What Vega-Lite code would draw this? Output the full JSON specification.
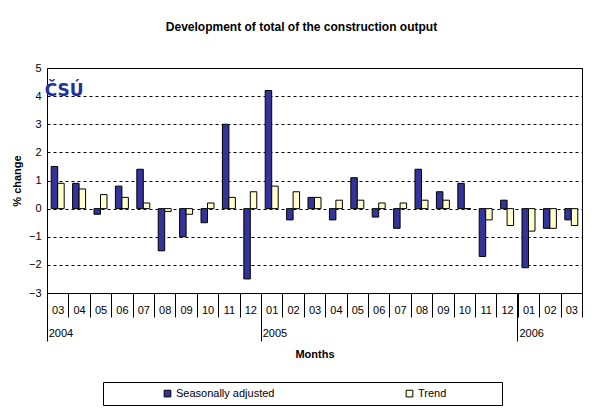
{
  "$schema": "https://vega.github.io/schema/vega-lite/v6.json",
  "width": 535,
  "height": 225,
  "autosize": {"type": "none"},
  "padding": {"left": 47, "top": 68, "right": 22, "bottom": 121},
  "background": "white",
  "config": {
    "font": "Liberation Sans",
    "view": {"stroke": "#000", "strokeWidth": 1},
    "axis": {"labelFont": "Liberation Sans", "titleFont": "Liberation Sans", "labelColor": "#000", "titleColor": "#000", "labelFontSize": 11, "titleFontSize": 11}
  },
  "title": {
    "text": "Development of total of the construction output",
    "fontSize": 12,
    "fontWeight": "bold",
    "font": "Liberation Sans",
    "color": "#000",
    "anchor": "middle",
    "dx": -13,
    "offset": 28
  },
  "datasets": {
    "bars": [
      {"period": "2004-03", "series": "Seasonally adjusted", "value": 1.5},
      {"period": "2004-03", "series": "Trend", "value": 0.9},
      {"period": "2004-04", "series": "Seasonally adjusted", "value": 0.9},
      {"period": "2004-04", "series": "Trend", "value": 0.7},
      {"period": "2004-05", "series": "Seasonally adjusted", "value": -0.2},
      {"period": "2004-05", "series": "Trend", "value": 0.5},
      {"period": "2004-06", "series": "Seasonally adjusted", "value": 0.8},
      {"period": "2004-06", "series": "Trend", "value": 0.4},
      {"period": "2004-07", "series": "Seasonally adjusted", "value": 1.4},
      {"period": "2004-07", "series": "Trend", "value": 0.2},
      {"period": "2004-08", "series": "Seasonally adjusted", "value": -1.5},
      {"period": "2004-08", "series": "Trend", "value": -0.1},
      {"period": "2004-09", "series": "Seasonally adjusted", "value": -1.0},
      {"period": "2004-09", "series": "Trend", "value": -0.2},
      {"period": "2004-10", "series": "Seasonally adjusted", "value": -0.5},
      {"period": "2004-10", "series": "Trend", "value": 0.2},
      {"period": "2004-11", "series": "Seasonally adjusted", "value": 3.0},
      {"period": "2004-11", "series": "Trend", "value": 0.4},
      {"period": "2004-12", "series": "Seasonally adjusted", "value": -2.5},
      {"period": "2004-12", "series": "Trend", "value": 0.6},
      {"period": "2005-01", "series": "Seasonally adjusted", "value": 4.2},
      {"period": "2005-01", "series": "Trend", "value": 0.8},
      {"period": "2005-02", "series": "Seasonally adjusted", "value": -0.4},
      {"period": "2005-02", "series": "Trend", "value": 0.6},
      {"period": "2005-03", "series": "Seasonally adjusted", "value": 0.4},
      {"period": "2005-03", "series": "Trend", "value": 0.4},
      {"period": "2005-04", "series": "Seasonally adjusted", "value": -0.4},
      {"period": "2005-04", "series": "Trend", "value": 0.3},
      {"period": "2005-05", "series": "Seasonally adjusted", "value": 1.1},
      {"period": "2005-05", "series": "Trend", "value": 0.3},
      {"period": "2005-06", "series": "Seasonally adjusted", "value": -0.3},
      {"period": "2005-06", "series": "Trend", "value": 0.2},
      {"period": "2005-07", "series": "Seasonally adjusted", "value": -0.7},
      {"period": "2005-07", "series": "Trend", "value": 0.2},
      {"period": "2005-08", "series": "Seasonally adjusted", "value": 1.4},
      {"period": "2005-08", "series": "Trend", "value": 0.3},
      {"period": "2005-09", "series": "Seasonally adjusted", "value": 0.6},
      {"period": "2005-09", "series": "Trend", "value": 0.3},
      {"period": "2005-10", "series": "Seasonally adjusted", "value": 0.9},
      {"period": "2005-10", "series": "Trend", "value": 0.0},
      {"period": "2005-11", "series": "Seasonally adjusted", "value": -1.7},
      {"period": "2005-11", "series": "Trend", "value": -0.4},
      {"period": "2005-12", "series": "Seasonally adjusted", "value": 0.3},
      {"period": "2005-12", "series": "Trend", "value": -0.6},
      {"period": "2006-01", "series": "Seasonally adjusted", "value": -2.1},
      {"period": "2006-01", "series": "Trend", "value": -0.8},
      {"period": "2006-02", "series": "Seasonally adjusted", "value": -0.7},
      {"period": "2006-02", "series": "Trend", "value": -0.7},
      {"period": "2006-03", "series": "Seasonally adjusted", "value": -0.4},
      {"period": "2006-03", "series": "Trend", "value": -0.6}
    ],
    "logo": [
      {"period": "2004-03", "value": 4.2, "label": "ČSÚ"}
    ]
  },
  "resolve": {"axis": {"x": "independent"}},
  "layer": [
    {
      "data": {"name": "bars"},
      "mark": {"type": "bar", "stroke": "#000", "strokeWidth": 1},
      "encoding": {
        "x": {
          "field": "period",
          "type": "nominal",
          "sort": "ascending",
          "scale": {"paddingInner": 0, "paddingOuter": 0},
          "axis": {
            "orient": "bottom",
            "title": null,
            "labelExpr": "slice(datum.label, 5, 7)",
            "labelAngle": 0,
            "tickBand": "extent",
            "tickSize": 24,
            "tickColor": "#000",
            "domainColor": "#000",
            "labelPadding": -13,
            "labelBaseline": "top"
          }
        },
        "xOffset": {
          "field": "series",
          "type": "nominal",
          "scale": {"paddingInner": 0, "paddingOuter": 0.65}
        },
        "y": {
          "field": "value",
          "type": "quantitative",
          "scale": {"domain": [-3, 5], "nice": false, "zero": false},
          "axis": {
            "values": [-3, -2, -1, 0, 1, 2, 3, 4, 5],
            "tickCount": 12,
            "format": "d",
            "labelOverlap": false,
            "title": "% change",
            "titleFontWeight": "bold",
            "titlePadding": 6,
            "grid": true,
            "gridColor": "#000",
            "gridDash": [3, 3],
            "gridWidth": 1,
            "ticks": false,
            "domain": false,
            "labelPadding": 6
          }
        },
        "color": {
          "field": "series",
          "type": "nominal",
          "scale": {"domain": ["Seasonally adjusted", "Trend"], "range": ["#333399", "#FFFFCC"]},
          "legend": {
            "orient": "none",
            "legendX": 56,
            "legendY": 314,
            "direction": "horizontal",
            "columns": 2,
            "title": "\u200b\u00a0\u00a0\u00a0\u00a0\u00a0\u00a0\u00a0\u00a0\u00a0\u00a0\u00a0\u00a0\u00a0\u00a0\u00a0\u00a0\u00a0\u200b",
            "titleOrient": "left",
            "titlePadding": 1,
            "labelExpr": "datum.label == 'Trend' ? datum.label + '\u00a0\u00a0\u00a0\u00a0\u00a0\u00a0\u00a0\u00a0\u00a0\u00a0\u00a0\u00a0\u00a0\u00a0\u00a0\u00a0\u200b' : datum.label",
            "columnPadding": 129,
            "symbolType": "square",
            "symbolSize": 45,
            "symbolStrokeColor": "#000",
            "symbolStrokeWidth": 1,
            "labelFontSize": 11,
            "labelFont": "Liberation Sans",
            "labelColor": "#000",
            "labelOffset": 3,
            "labelLimit": 300,
            "strokeColor": "#000",
            "fillColor": "#fff",
            "padding": 6
          }
        }
      }
    },
    {
      "mark": {"type": "rule", "color": "#000", "strokeWidth": 1},
      "encoding": {"y": {"datum": 0, "type": "quantitative"}}
    },
    {
      "data": {"name": "logo"},
      "mark": {"type": "text", "font": "DejaVu Sans", "fontWeight": "bold", "fontSize": 17, "color": "#22309c", "align": "left", "baseline": "middle", "dx": -13},
      "encoding": {
        "text": {"field": "label", "type": "nominal"},
        "x": {
          "field": "period",
          "type": "nominal",
          "axis": {
            "orient": "bottom",
            "values": ["2004-03", "2005-01", "2006-01"],
            "labelExpr": "slice(datum.label, 0, 4)",
            "labelAngle": 0,
            "labelAlign": "left",
            "labelOffset": -9,
            "labelPadding": -14,
            "labelBaseline": "top",
            "bandPosition": 0,
            "tickSize": 48,
            "tickColor": "#000",
            "domain": false,
            "grid": false,
            "title": "Months",
            "titleFontWeight": "bold",
            "titlePadding": 7
          }
        },
        "y": {"field": "value", "type": "quantitative"}
      }
    }
  ]
}
